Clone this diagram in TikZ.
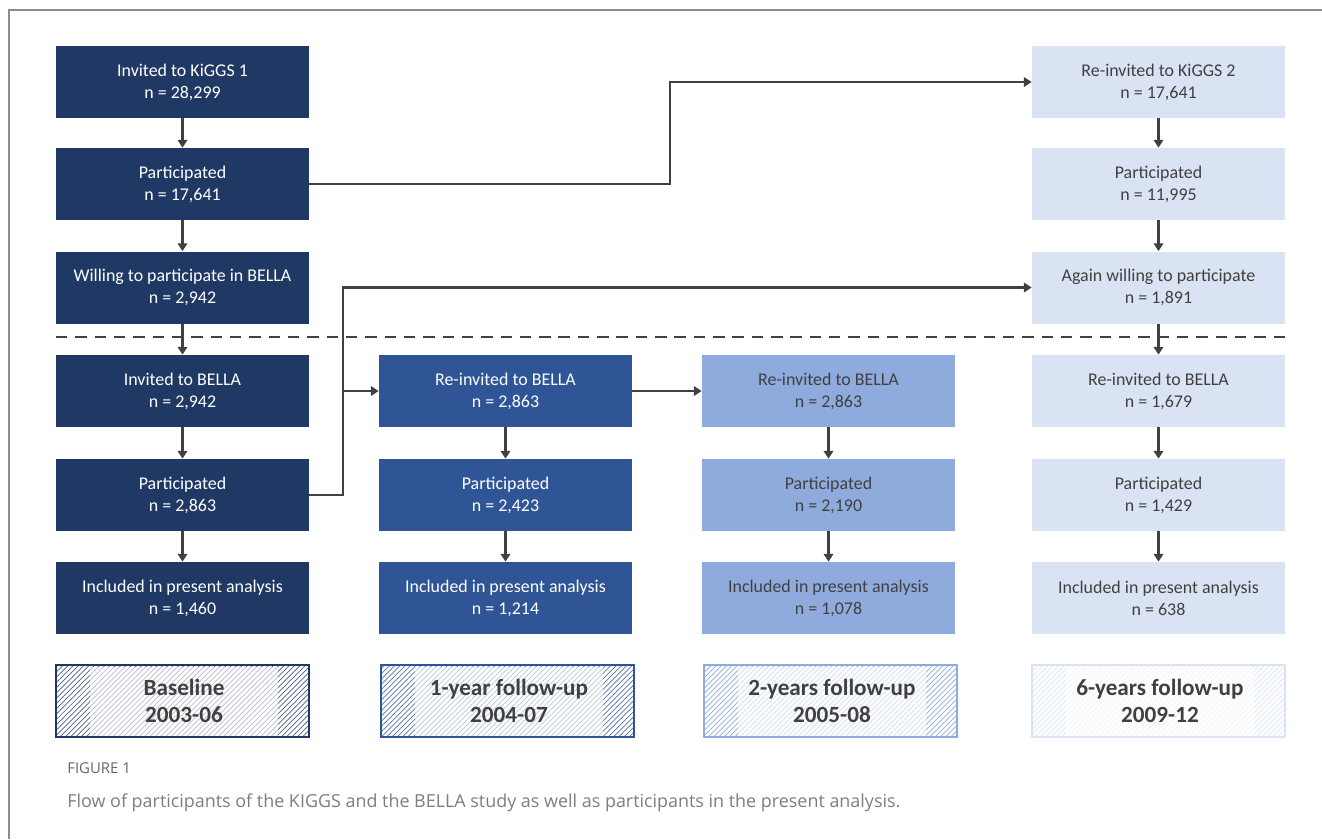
\documentclass[tikz,border=0pt]{standalone}
\usepackage{fontspec}
\setmainfont{Carlito}
\newfontfamily\captionfont{Open Sans}
\usetikzlibrary{
	positioning,
	arrows.meta,
	patterns
}
\definecolor{BellaNavy}{RGB}{31,56,100}
\definecolor{BellaBlue}{RGB}{47,85,151}
\definecolor{BellaSky}{RGB}{143,170,220}
\definecolor{BellaPale}{RGB}{218,227,243}
\definecolor{ArrowGrey}{RGB}{64,64,64}
\definecolor{FrameGrey}{RGB}{140,140,140}
\definecolor{CaptionGrey}{RGB}{125,125,125}

\tikzset{
	flowbox/.style={
		minimum width=5.06cm,
		minimum height=1.44cm,
		inner sep=0pt,
		align=center,
		font=\fontsize{10.2}{12.5}\selectfont
	},
	flowarrow/.style={
		draw=ArrowGrey,
		line width=1.5pt,
		-{Triangle[length=4.5pt,width=5.5pt]}
	},
	periodbox/.style={
		minimum width=5.06cm,
		minimum height=1.44cm,
		inner sep=0pt,
		pattern=north east lines
	},
	periodlabel/.style={
		minimum width=3.76cm,
		minimum height=1.38cm,
		inner sep=0pt,
		fill=white,
		fill opacity=0.6,
		text opacity=1,
		align=center,
		text=ArrowGrey,
		font=\fontsize{13.2}{15.4}\selectfont\bfseries
	}
}

\begin{document}
\begin{tikzpicture}[x=0.02cm,y=-0.02cm]
	
	\useasboundingbox (0,0) rectangle (1322,839);
	
	% frame of the figure
	\draw[FrameGrey, line width=0.8pt] (9,839) -- (9,10) -- (1322,10);
	
	% baseline column
	\node[flowbox, fill=BellaNavy, text=white] (kiggsinv) at (182.5,82) {Invited to KiGGS 1\\n = 28,299};
	\node[flowbox, fill=BellaNavy, text=white] (kiggspart) at (182.5,184) {Participated\\n = 17,641};
	\node[flowbox, fill=BellaNavy, text=white] (willing) at (182.5,287.5) {Willing to participate in BELLA\\n = 2,942};
	\node[flowbox, fill=BellaNavy, text=white] (bellainv) at (182.5,391) {Invited to BELLA\\n = 2,942};
	\node[flowbox, fill=BellaNavy, text=white] (bellapart) at (182.5,495) {Participated\\n = 2,863};
	\node[flowbox, fill=BellaNavy, text=white] (baseincl) at (182.5,598) {Included in present analysis\\n = 1,460};
	
	% 1-year follow-up
	\node[flowbox, fill=BellaBlue, text=white] (oneinv) at (505.5,391) {Re-invited to BELLA\\n = 2,863};
	\node[flowbox, fill=BellaBlue, text=white] (onepart) at (505.5,495) {Participated\\n = 2,423};
	\node[flowbox, fill=BellaBlue, text=white] (oneincl) at (505.5,598) {Included in present analysis\\n = 1,214};
	
	% 2-years follow-up
	\node[flowbox, fill=BellaSky, text=ArrowGrey] (twoinv) at (828.5,391) {Re-invited to BELLA\\n = 2,863};
	\node[flowbox, fill=BellaSky, text=ArrowGrey] (twopart) at (828.5,495) {Participated\\n = 2,190};
	\node[flowbox, fill=BellaSky, text=ArrowGrey] (twoincl) at (828.5,598) {Included in present analysis\\n = 1,078};
	
	% 6-years follow-up
	\node[flowbox, fill=BellaPale, text=ArrowGrey] (kiggsreinv) at (1158.5,82) {Re-invited to KiGGS 2\\n = 17,641};
	\node[flowbox, fill=BellaPale, text=ArrowGrey] (kiggsrepart) at (1158.5,184) {Participated\\n = 11,995};
	\node[flowbox, fill=BellaPale, text=ArrowGrey] (again) at (1158.5,287.5) {Again willing to participate\\n = 1,891};
	\node[flowbox, fill=BellaPale, text=ArrowGrey] (sixinv) at (1158.5,391) {Re-invited to BELLA\\n = 1,679};
	\node[flowbox, fill=BellaPale, text=ArrowGrey] (sixpart) at (1158.5,495) {Participated\\n = 1,429};
	\node[flowbox, fill=BellaPale, text=ArrowGrey] (sixincl) at (1158.5,598) {Included in present analysis\\n = 638};
	
	% split between KiGGS and BELLA
	\coordinate (splitleft) at (56,337);
	\coordinate (splitright) at (1285,337);
	\draw[ArrowGrey, line width=1.6pt, dash pattern=on 6.5pt off 4.5pt] (splitleft) -- (splitright);
	
	% vertical arrows
	\foreach \from/\to in {kiggsinv/kiggspart, kiggspart/willing, willing/bellainv, bellainv/bellapart, bellapart/baseincl,
		oneinv/onepart, onepart/oneincl, twoinv/twopart, twopart/twoincl,
		kiggsreinv/kiggsrepart, kiggsrepart/again, again/sixinv, sixinv/sixpart, sixpart/sixincl}
		\draw[flowarrow] (\from) -- (\to);
	
	% cross links
	\coordinate (kiggsbend) at (670,184);
	\coordinate (bellabend) at (343,495);
	\draw[flowarrow] (kiggspart.east) -- (kiggsbend) |- (kiggsreinv.west);
	\draw[flowarrow] (bellapart.east) -- (bellabend) |- (again.west);
	\draw[flowarrow] (bellabend |- oneinv.west) -- (oneinv.west);
	\draw[flowarrow] (oneinv.east) -- (twoinv.west);
	
	% periods
	\node[periodbox, draw=BellaNavy, line width=1.2pt, pattern color=BellaNavy!80] (baseperiod) at (182.5,701) {};
	\node[periodlabel] (baselabel) at (184,701) {Baseline\\2003-06};
	\node[periodbox, draw=BellaBlue, line width=0.9pt, pattern color=BellaBlue!80] (oneperiod) at (507.5,701) {};
	\node[periodlabel] (onelabel) at (509,701) {1-year follow-up\\2004-07};
	\node[periodbox, draw=BellaSky, line width=0.7pt, pattern color=BellaSky] (twoperiod) at (830.5,701) {};
	\node[periodlabel] (twolabel) at (832,701) {2-years follow-up\\2005-08};
	\node[periodbox, draw=BellaPale, line width=0.7pt, pattern color=BellaPale] (sixperiod) at (1158.5,701) {};
	\node[periodlabel] (sixlabel) at (1160,701) {6-years follow-up\\2009-12};
	
	% caption
	\node[anchor=west, inner sep=0pt, text=ArrowGrey!80, font=\captionfont\fontsize{8.5}{10}\selectfont] (figno) at (67,768) {FIGURE 1};
	\node[anchor=west, inner sep=0pt, text=CaptionGrey, font=\captionfont\fontsize{10.2}{12}\selectfont] (figcaption) at (67,803) {Flow of participants of the KIGGS and the BELLA study as well as participants in the present analysis.};
	
\end{tikzpicture}
\end{document}
